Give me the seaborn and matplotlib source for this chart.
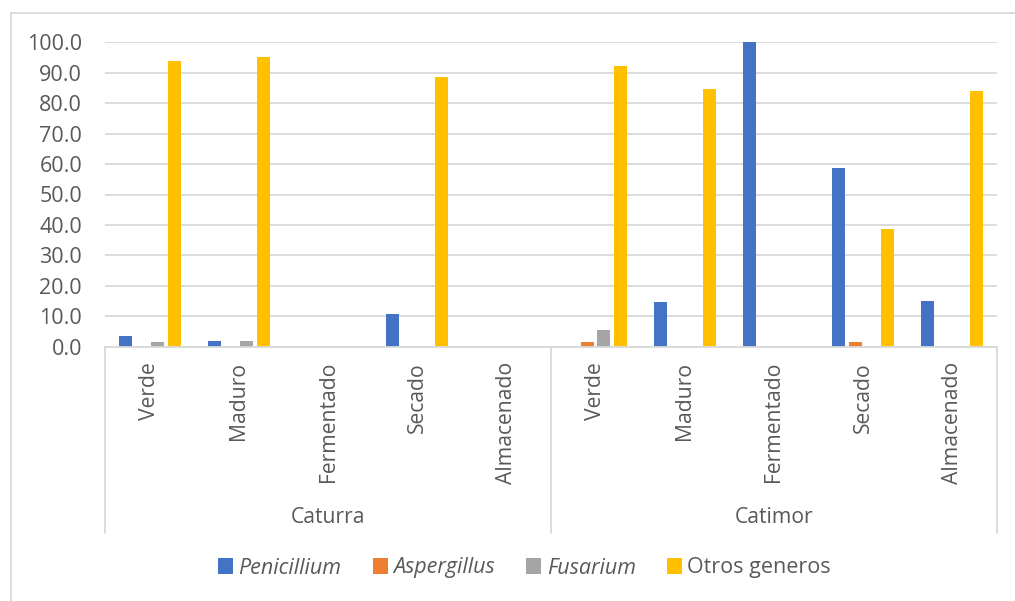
import matplotlib
matplotlib.use("Agg")
import matplotlib.pyplot as plt
from matplotlib.lines import Line2D
from matplotlib.patches import Patch
import seaborn as sns
import pandas as pd

# Coffee varieties and processing stages
varieties = ["Caturra", "Catimor"]
stages = ["Verde", "Maduro", "Fermentado", "Secado", "Almacenado"]
genera = ["Penicillium", "Aspergillus", "Fusarium", "Otros generos"]

# Relative frequency (%) of each fungal genus, per variety and stage
penicillium = [3.5, 1.9, 0.0, 10.7, 0.0, 0.0, 14.6, 100.0, 58.7, 15.0]
aspergillus = [0.0, 0.0, 0.0, 0.0, 0.0, 1.5, 0.0, 0.0, 1.6, 0.0]
fusarium = [1.6, 1.9, 0.0, 0.0, 0.0, 5.5, 0.0, 0.0, 0.0, 0.0]
otros = [93.8, 95.3, 0.0, 88.6, 0.0, 92.2, 84.7, 0.0, 38.6, 84.1]

colors = ["#4472C4", "#ED7D31", "#A5A5A5", "#FFC000"]
text_color = "#595959"
grid_color = "#D9D9D9"

# Long-form table for seaborn
slots = [f"{v}|{s}" for v in varieties for s in stages]
rows = []
for name, vals in zip(genera, [penicillium, aspergillus, fusarium, otros]):
    for slot, val in zip(slots, vals):
        rows.append({"slot": slot, "genero": name, "valor": val})
df = pd.DataFrame(rows)

sns.set_theme(style="white")
plt.rcParams["font.family"] = ["Open Sans", "DejaVu Sans"]

W, H = 1015, 601
fig = plt.figure(figsize=(W / 100, H / 100), dpi=100)
left, right, top, bottom = 105, 997, 42.3, 346.7
ax = fig.add_axes([left / W, 1 - bottom / H, (right - left) / W, (bottom - top) / H])

sns.barplot(data=df, x="slot", y="valor", hue="genero", order=slots,
            hue_order=genera, palette=colors, width=0.73, gap=0.2,
            linewidth=0, saturation=1, errorbar=None, ax=ax, legend=False)

ax.set_xlim(-0.5, len(slots) - 0.5)
ax.set_ylim(0, 100)
ax.set_yticks(range(0, 101, 10))
ax.set_yticklabels([f"{v:.1f}" for v in range(0, 101, 10)],
                   fontsize=15.5, color=text_color)
ax.tick_params(axis="y", length=0, pad=16.5)
ax.yaxis.grid(True, color=grid_color, linewidth=1.3)
ax.set_axisbelow(True)
for side in ["left", "right", "top"]:
    ax.spines[side].set_visible(False)
ax.spines["bottom"].set_color(grid_color)
ax.spines["bottom"].set_linewidth(1.3)

ax.set_xticks(range(len(slots)))
ax.set_xticklabels(stages * len(varieties), rotation=90, fontsize=15.2,
                   color=text_color, va="top", ha="center")
ax.tick_params(axis="x", length=0, pad=11)
ax.set_xlabel("")
ax.set_ylabel("")

# Variety labels and separators of the grouped category axis
trans = ax.get_xaxis_transform()
sep_bottom = -(533 - bottom) / (bottom - top)
for k in range(len(varieties) + 1):
    x = k * len(stages) - 0.5
    ax.add_line(Line2D([x, x], [0, sep_bottom], transform=trans,
                       color=grid_color, linewidth=1.3, clip_on=False))
label_y = -(518 - bottom) / (bottom - top)
for k, v in enumerate(varieties):
    ax.text(k * len(stages) + (len(stages) - 1) / 2, label_y, v, transform=trans,
            ha="center", va="center", fontsize=15.2, color=text_color)

# Chart frame (left and top edges)
fig.add_artist(Line2D([11 / W, 11 / W], [0, 1 - 13 / H], color=grid_color,
                      linewidth=1.3, transform=fig.transFigure))
fig.add_artist(Line2D([11 / W, 1], [1 - 13 / H, 1 - 13 / H], color=grid_color,
                      linewidth=1.3, transform=fig.transFigure))

handles = [Patch(facecolor=c, edgecolor="none") for c in colors]
leg = fig.legend(handles, genera, loc="center", bbox_to_anchor=(524.5 / W, 1 - 568 / H),
                 ncol=4, frameon=False, fontsize=15.5, handlelength=0.7,
                 handleheight=0.7, handletextpad=0.25, columnspacing=1.45)
for t, name in zip(leg.get_texts(), genera):
    t.set_color(text_color)
    if name != "Otros generos":
        t.set_fontstyle("italic")

fig.savefig("out.png", dpi=100, facecolor="white")
